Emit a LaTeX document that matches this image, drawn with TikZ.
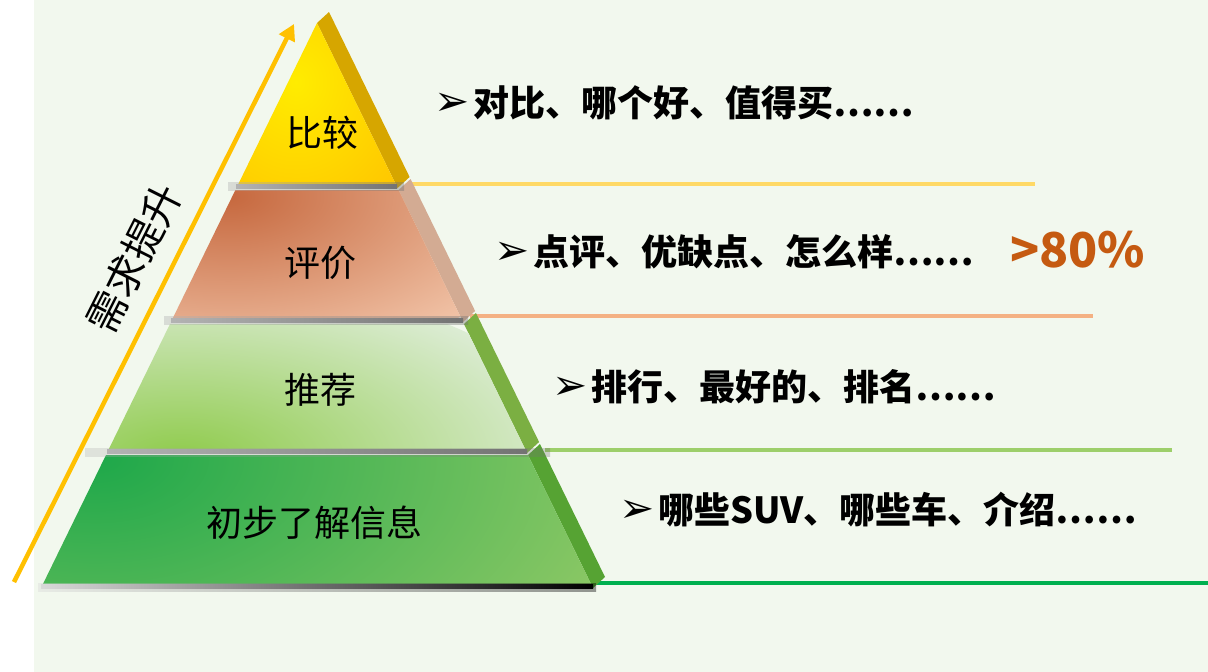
\documentclass[tikz,border=0pt]{standalone}
\usepackage{fontspec}
\newfontfamily\cjk{Noto Sans CJK SC}
\newfontfamily\dejavu{DejaVu Sans}
\usetikzlibrary{arrows.meta}
\definecolor{bg}{HTML}{F2F8EE}
\definecolor{arrowc}{HTML}{FFC000}
\definecolor{lineA}{HTML}{FFD966}
\definecolor{lineB}{HTML}{F4B183}
\definecolor{lineC}{HTML}{9DCF6A}
\definecolor{lineD}{HTML}{00B050}
\definecolor{sideA}{HTML}{D6A600}
\definecolor{sideB}{HTML}{D3AB93}
\definecolor{sideC}{HTML}{7BAF42}
\definecolor{sideD}{HTML}{56A333}
\definecolor{pctc}{HTML}{C55A11}
\tikzset{
  tierlabel/.style={font=\cjk\fontsize{36}{36}\selectfont, text=black, inner sep=0pt},
  bullettext/.style={anchor=west, inner sep=0pt, text=black},
  sepline/.style={line width=3.5pt},
  shadowband/.style={left color=black!30, middle color=black, right color=black!55},
}
\newcommand{\bul}[1]{\raisebox{1pt}{\dejavu\fontsize{42}{36}\selectfont ➢}\hspace{4pt}{\cjk\bfseries\fontsize{36}{36}\selectfont #1}}
\begin{document}
\begin{tikzpicture}[x=1pt,y=-1pt]
\useasboundingbox (0,0) rectangle (1208,672);
\fill[white] (0,0) rectangle (1208,672);
\fill[bg] (34,0) rectangle (1208,672);

% pyramid corner coordinates
\coordinate (A) at (317,23);
\coordinate (L1) at (236.4,188); \coordinate (R1) at (397.6,188);
\coordinate (L2t) at (235.4,190); \coordinate (R2t) at (398.6,190);
\coordinate (L2) at (170.9,322); \coordinate (R2) at (463.1,322);
\coordinate (L3t) at (170.0,324); \coordinate (R3t) at (464.0,324);
\coordinate (L3) at (106.9,453); \coordinate (R3) at (527.1,453);
\coordinate (L4t) at (106.0,455); \coordinate (R4t) at (528.0,455);
\coordinate (L4) at (41.0,588); \coordinate (R4) at (593.0,588);

% separator lines
\draw[sepline, lineA] (409,184) -- (1035,184);
\draw[sepline, lineB] (470,316) -- (1093,316);
\draw[sepline, lineC] (545,450) -- (1172,450);
\draw[sepline, lineD] (593,583) -- (1208,583);

% side bands
\fill[sideA] (A) -- (R1) -- ([shift={(12,-11)}]R1) -- ([shift={(12,-11)}]A) -- cycle;
\fill[sideB] (R2t) -- (R2) -- ([shift={(12,-11)}]R2) -- ([shift={(12,-11)}]R2t) -- cycle;
\fill[sideC] (R3t) -- (R3) -- ([shift={(12,-11)}]R3) -- ([shift={(12,-11)}]R3t) -- cycle;
\fill[sideD] (R4t) -- (R4) -- ([shift={(12,-11)}]R4) -- ([shift={(12,-11)}]R4t) -- cycle;

% tier 1
\begin{scope}
\clip (A) -- (R1) -- (L1) -- cycle;
\shade[inner color={rgb,255:red,255;green,236;blue,0}, outer color={rgb,255:red,255;green,194;blue,0}] (296,82) ellipse (150 and 170);
\end{scope}
% tier 2
\begin{scope}
\clip (L2t) -- (R2t) -- (R2) -- (L2) -- cycle;
\shade[inner color={rgb,255:red,198;green,104;blue,62}, outer color={rgb,255:red,241;green,195;blue,167}] (228,196) ellipse (330 and 170);
\end{scope}
% tier 3
\begin{scope}
\clip (L3t) -- (R3t) -- (R3) -- (L3) -- cycle;
\shade[inner color={rgb,255:red,143;green,203;blue,76}, outer color={rgb,255:red,220;green,236;blue,212}] (180,458) ellipse (400 and 180);
\end{scope}
% tier 4
\begin{scope}
\clip (L4t) -- (R4t) -- (R4) -- (L4) -- cycle;
\shade[inner color={rgb,255:red,30;green,168;blue,74}, outer color={rgb,255:red,141;green,200;blue,101}] (95,458) ellipse (560 and 320);
\end{scope}

% shadow bands
\shade[shadowband, opacity=0.4] (228,182) rectangle (404,190);
\shade[shadowband] (236,184) rectangle (397,188);
\shade[shadowband, opacity=0.4] (164,316) rectangle (468,324);
\shade[shadowband] (171,318) rectangle (463,322);
\shade[shadowband, opacity=0.3] (85,448) rectangle (550,456);
\shade[shadowband] (107,449) rectangle (527,453);
\shade[left color=black!15, middle color=black!70, right color=black, opacity=0.4] (38,583) rectangle (596,591);
\shade[left color=black!15, middle color=black!70, right color=black] (41,584) rectangle (593,588);

% tier labels
\node[tierlabel] (t1) at (322,133) {比较};
\node[tierlabel] (t2) at (320,263) {评价};
\node[tierlabel] (t3) at (320,390) {推荐};
\node[tierlabel] (t4) at (314,523) {初步了解信息};

% rising arrow
\coordinate (arrS) at (14,582);
\coordinate (arrE) at (294,24);
\draw[arrowc, line width=4.5pt, -{Triangle[length=16pt,width=17pt]}] (arrS) -- (arrE);
\node[rotate=63.3, font=\cjk\fontsize{40}{40}\selectfont, inner sep=0pt] (need) at (134,258) {需求提升};

% bullet texts
\node[bullettext] (b1) at (434,103) {\bul{对比、哪个好、值得买……}};
\node[bullettext] (b2) at (494,252) {\bul{点评、优缺点、怎么样……}};
\node[bullettext] (b3) at (552,387) {\bul{排行、最好的、排名……}};
\node[bullettext] (b4) at (619,510) {\bul{哪些SUV、哪些车、介绍……}};
\node[anchor=west, inner sep=0pt, text=pctc, font=\cjk\bfseries\fontsize{48}{48}\selectfont] (pct) at (1010,250) {>80\%};
\end{tikzpicture}
\end{document}
